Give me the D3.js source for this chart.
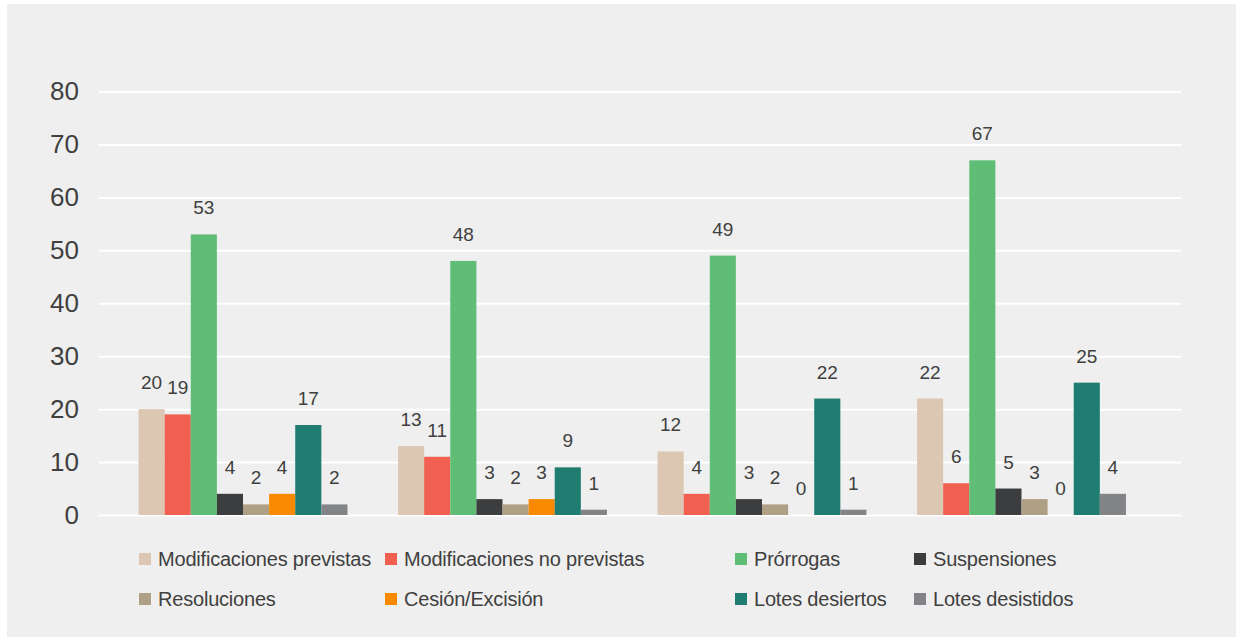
<!DOCTYPE html>
<html lang="es">
<head>
<meta charset="utf-8">
<script src="https://cdn.jsdelivr.net/npm/d3@7"></script>
<style>
  html, body { margin: 0; padding: 0; background: #ffffff; }
  svg { display: block; font-family: "Liberation Sans", Arial, sans-serif; }
</style>
</head>
<body>
<svg id="chart" width="1242" height="643"></svg>
<script>
// Grupos (sin rótulo visible en el eje horizontal)
const categories = ["1", "2", "3", "4"];

// Series y sus valores por grupo
const seriesNames = [
  "Modificaciones previstas",
  "Modificaciones no previstas",
  "Prórrogas",
  "Suspensiones",
  "Resoluciones",
  "Cesión/Excisión",
  "Lotes desiertos",
  "Lotes desistidos"
];
const modificacionesPrevistas   = [20, 13, 12, 22];
const modificacionesNoPrevistas = [19, 11, 4, 6];
const prorrogas                 = [53, 48, 49, 67];
const suspensiones              = [4, 3, 3, 5];
const resoluciones              = [2, 2, 2, 3];
const cesionExcision            = [4, 3, 0, 0];
const lotesDesiertos            = [17, 9, 22, 25];
const lotesDesistidos           = [2, 1, 1, 4];

const seriesValues = [
  modificacionesPrevistas, modificacionesNoPrevistas, prorrogas, suspensiones,
  resoluciones, cesionExcision, lotesDesiertos, lotesDesistidos
];

const yTicks = [0, 10, 20, 30, 40, 50, 60, 70, 80];

const colors = ["#dcc7b3", "#f05f4f", "#60bd76", "#3c3d3f",
                "#ae9f85", "#f98a00", "#1e7c70", "#838487"];

const svg = d3.select("#chart");
const textColor = "#404040";
const fontFamily = "Liberation Sans, Arial, sans-serif";

// Panel de fondo
svg.append("rect")
  .attr("x", 7).attr("y", 4)
  .attr("width", 1229).attr("height", 633)
  .attr("fill", "#efefef");

// Escalas
const y = d3.scaleLinear().domain([0, 80]).range([515, 91.5]);
const x0 = d3.scaleBand().domain(categories).range([113.25, 1151.25])
  .paddingInner(0.195).paddingOuter(0.0975);
const x1 = d3.scaleBand().domain(seriesNames).range([0, x0.bandwidth()]);
const color = d3.scaleOrdinal().domain(seriesNames).range(colors);

// Líneas de cuadrícula y etiquetas del eje Y
const yAxis = d3.axisLeft(y).tickValues(yTicks).tickSize(-(1181 - 99)).tickPadding(20);
const gy = svg.append("g").attr("transform", "translate(99,0)").call(yAxis);
gy.select(".domain").remove();
gy.selectAll(".tick line").attr("stroke", "#ffffff").attr("stroke-width", 2);
gy.selectAll(".tick text")
  .attr("fill", textColor)
  .attr("font-size", 26)
  .attr("font-family", fontFamily);

// Barras
const rows = categories.map((c, i) => ({
  cat: c,
  items: seriesNames.map((s, j) => ({ series: s, value: seriesValues[j][i] }))
}));

const groups = svg.append("g").selectAll("g")
  .data(rows).join("g")
  .attr("transform", d => `translate(${x0(d.cat)},0)`);

groups.selectAll("rect")
  .data(d => d.items).join("rect")
  .attr("x", d => x1(d.series))
  .attr("y", d => y(d.value))
  .attr("width", x1.bandwidth())
  .attr("height", d => y(0) - y(d.value))
  .attr("fill", d => color(d.series));

// Etiquetas de valor
groups.selectAll("text")
  .data(d => d.items).join("text")
  .attr("x", d => x1(d.series) + x1.bandwidth() / 2)
  .attr("y", d => y(d.value) - 20)
  .attr("text-anchor", "middle")
  .attr("fill", textColor)
  .attr("font-size", 19)
  .text(d => d.value);

// Leyenda
const legendCols = [139, 385, 735, 914];
const legendRows = [559, 599];
const legend = svg.append("g").selectAll("g")
  .data(seriesNames).join("g")
  .attr("transform", (d, i) =>
    `translate(${legendCols[i % 4]},${legendRows[Math.floor(i / 4)]})`);

legend.append("rect")
  .attr("x", 0).attr("y", -6)
  .attr("width", 12).attr("height", 12)
  .attr("fill", d => color(d));

legend.append("text")
  .attr("x", 19).attr("y", 0)
  .attr("dy", "0.35em")
  .attr("fill", textColor)
  .attr("font-size", 20)
  .attr("letter-spacing", -0.2)
  .text(d => d);
</script>
</body>
</html>
